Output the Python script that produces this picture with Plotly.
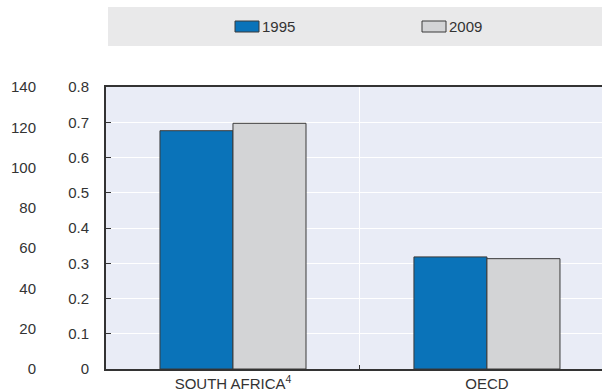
import plotly.graph_objects as go

categories = ["SOUTH AFRICA<sup>4</sup>", "OECD"]
series_names = ["1995", "2009"]
values_1995 = [0.676, 0.318]
values_2009 = [0.697, 0.313]
colors = ["#0a73b9", "#d3d4d6"]
left_ticks = [0, 20, 40, 60, 80, 100, 120, 140]

W, H = 602, 392
ml, mt, mb = 0, 87, 23
x0_px = 106
ph = H - mt - mb

def px_x(p):
    return p / W

def px_y(p):
    return 1 + (mt - p) / ph

fig = go.Figure()
for name, vals, col in zip(series_names, [values_1995, values_2009], colors):
    fig.add_trace(go.Bar(
        x=categories, y=vals, name=name,
        marker=dict(color=col, line=dict(color="#3a3a3a", width=1)),
        showlegend=False,
    ))
# empty trace so the outer left scale (0-140) is drawn
fig.add_trace(go.Scatter(x=categories, y=[None, None], yaxis="y2",
                         showlegend=False, hoverinfo="skip", mode="markers"))

font = dict(family="Liberation Sans, Arial, sans-serif", size=15, color="#333333")

fig.update_layout(
    width=W, height=H,
    margin=dict(l=ml, r=0, t=mt, b=mb),
    paper_bgcolor="white",
    plot_bgcolor="#e9ecf6",
    barmode="group",
    bargap=0.425,
    bargroupgap=0,
    font=font,
    xaxis=dict(
        domain=[x0_px / W, 1],
        range=[-0.5, 1.453],
        showline=True, linecolor="#333333", linewidth=2, mirror=True,
        ticks="inside", ticklen=4, tickcolor="#333333", tickson="boundaries",
        showgrid=True, gridcolor="white", gridwidth=1,
        tickfont=font,
    ),
    yaxis=dict(
        range=[0, 0.8], dtick=0.1,
        showline=True, linecolor="#333333", linewidth=2,
        ticks="inside", ticklen=5, tickcolor="#333333",
        showgrid=True, gridcolor="white", gridwidth=1,
        tickfont=font, zeroline=False,
        ticklabelstandoff=12,
    ),
    yaxis2=dict(
        range=[0, 140], tickvals=left_ticks,
        overlaying="y", anchor="free", side="left", position=36 / W,
        showline=False, ticks="", showgrid=False, zeroline=False,
        tickfont=font,
    ),
)

# legend band
fig.add_shape(type="rect", xref="paper", yref="paper",
              x0=px_x(108), x1=1, y0=px_y(46), y1=px_y(7),
              fillcolor="#e9e9ea", line=dict(width=0), layer="below")
swatch_x = [235, 422]
for name, col, sx in zip(series_names, colors, swatch_x):
    fig.add_shape(type="rect", xref="paper", yref="paper",
                  x0=px_x(sx), x1=px_x(sx + 24), y0=px_y(32), y1=px_y(21),
                  fillcolor=col, line=dict(color="#3a3a3a", width=1))
    fig.add_annotation(xref="paper", yref="paper", x=px_x(sx + 25), y=px_y(26.5),
                       text=name, showarrow=False, xanchor="left", yanchor="middle",
                       font=font)

fig.write_html("out.html", config={"displayModeBar": False},
               post_script="document.body.style.margin='0';document.body.style.overflow='hidden';")
